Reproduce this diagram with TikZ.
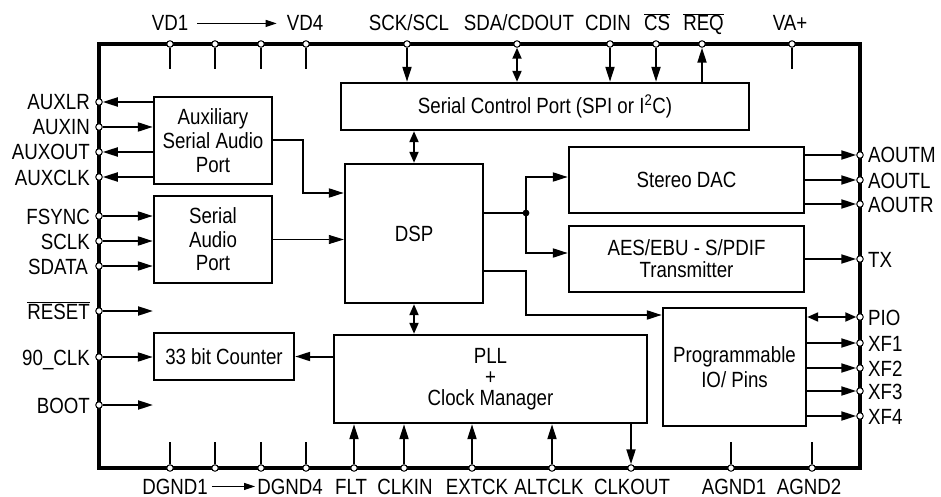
\documentclass[tikz,border=0pt]{standalone}
\usepackage{fontspec}
\setmainfont{Liberation Sans}[FakeStretch=0.85]
\usepackage{tikz}
\usetikzlibrary{arrows.meta}

\begin{document}
\begin{tikzpicture}[x=1pt, y=-1pt,
  every node/.style={font=\fontsize{22}{24}\selectfont},
  blk/.style={draw, line width=2.4pt, align=center, inner sep=0pt},
  iopad/.style={circle, draw, fill=white, line width=1pt, minimum size=6.5pt, inner sep=0pt},
  lbl/.style={inner sep=0pt},
  conn/.style={line width=2pt, -{Triangle[length=15pt,width=9pt]}},
  biconn/.style={line width=2pt, {Triangle[length=11pt,width=9pt]}-{Triangle[length=11pt,width=9pt]}},
  stub/.style={line width=2pt},
  spanarrow/.style={line width=1.1pt, -{Triangle[length=11pt,width=7pt]}}]
  \useasboundingbox (0,0) rectangle (941,497);

  % chip outline
  \draw[line width=3.6pt] (99,44) rectangle (860,468);

  % pads, left side
  \node[iopad] (pAUXLR) at (99,102) {};
  \node[iopad] (pAUXIN) at (99,127) {};
  \node[iopad] (pAUXOUT) at (99,152) {};
  \node[iopad] (pAUXCLK) at (99,177) {};
  \node[iopad] (pFSYNC) at (99,216) {};
  \node[iopad] (pSCLK) at (99,241) {};
  \node[iopad] (pSDATA) at (99,266) {};
  \node[iopad] (pRESET) at (99,311) {};
  \node[iopad] (pNINETY) at (99,357) {};
  \node[iopad] (pBOOT) at (99,405) {};
  % pads, top side
  \node[iopad] (pVDa) at (170,44) {};
  \node[iopad] (pVDb) at (215,44) {};
  \node[iopad] (pVDc) at (261,44) {};
  \node[iopad] (pVDd) at (306,44) {};
  \node[iopad] (pSCK) at (407,44) {};
  \node[iopad] (pSDA) at (517,44) {};
  \node[iopad] (pCDIN) at (610,44) {};
  \node[iopad] (pCS) at (656,44) {};
  \node[iopad] (pREQ) at (702,44) {};
  \node[iopad] (pVA) at (792,44) {};
  % pads, right side
  \node[iopad] (pAOUTM) at (860,155) {};
  \node[iopad] (pAOUTL) at (860,180) {};
  \node[iopad] (pAOUTR) at (860,204) {};
  \node[iopad] (pTX) at (860,259) {};
  \node[iopad] (pPIO) at (860,317) {};
  \node[iopad] (pXFa) at (860,343) {};
  \node[iopad] (pXFb) at (860,368) {};
  \node[iopad] (pXFc) at (860,391) {};
  \node[iopad] (pXFd) at (860,416) {};
  % pads, bottom side
  \node[iopad] (pDGa) at (170,468) {};
  \node[iopad] (pDGb) at (215,468) {};
  \node[iopad] (pDGc) at (261,468) {};
  \node[iopad] (pDGd) at (306,468) {};
  \node[iopad] (pFLT) at (354,468) {};
  \node[iopad] (pCLKIN) at (404,468) {};
  \node[iopad] (pEXTCK) at (472,468) {};
  \node[iopad] (pALTCLK) at (552,468) {};
  \node[iopad] (pCLKOUT) at (631,468) {};
  \node[iopad] (pAGa) at (731,468) {};
  \node[iopad] (pAGb) at (812,468) {};

  % blocks
  \node[blk, minimum width=118pt, minimum height=87pt] (aux) at (213,140.5) {Auxiliary\\Serial Audio\\Port};
  \node[blk, minimum width=118pt, minimum height=87pt, font=\fontsize{22}{23.5}\selectfont] (sap) at (213,239.5) {Serial\\Audio\\Port};
  \node[blk, minimum width=140pt, minimum height=47pt] (cnt) at (224,356.5) {33 bit Counter};
  \node[blk, minimum width=408pt, minimum height=47pt] (scp) at (545,106.5) {Serial Control Port (SPI or I\textsuperscript{2}C)};
  \node[blk, minimum width=138pt, minimum height=139pt] (dsp) at (414,233.5) {DSP};
  \node[blk, minimum width=313pt, minimum height=88pt, font=\fontsize{22}{21}\selectfont] (pll) at (490.5,379) {PLL\\+\\Clock Manager};
  \node[blk, minimum width=235pt, minimum height=66pt] (dac) at (686.5,180) {Stereo DAC};
  \node[blk, minimum width=235pt, minimum height=66pt, font=\fontsize{22}{22}\selectfont] (aes) at (686.5,259) {AES/EBU - S/PDIF\\Transmitter};
  \node[blk, minimum width=143pt, minimum height=118pt, font=\fontsize{22}{25}\selectfont] (pio) at (734.5,367) {Programmable\\IO/ Pins};

  % left connectors
  \draw[conn] (aux.west |- pAUXLR) -- (pAUXLR);
  \draw[conn] (pAUXIN) -- (aux.west |- pAUXIN);
  \draw[conn] (aux.west |- pAUXOUT) -- (pAUXOUT);
  \draw[conn] (aux.west |- pAUXCLK) -- (pAUXCLK);
  \draw[conn] (pFSYNC) -- (sap.west |- pFSYNC);
  \draw[conn] (pSCLK) -- (sap.west |- pSCLK);
  \draw[conn] (pSDATA) -- (sap.west |- pSDATA);
  \coordinate (eRESET) at (153,311);
  \coordinate (eBOOT) at (153,405);
  \draw[conn] (pRESET) -- (eRESET);
  \draw[conn] (pNINETY) -- (cnt.west |- pNINETY);
  \draw[conn] (pBOOT) -- (eBOOT);

  % top connectors
  \draw[stub] (pVDa) -- (pVDa |- 0,69);
  \draw[stub] (pVDb) -- (pVDb |- 0,69);
  \draw[stub] (pVDc) -- (pVDc |- 0,69);
  \draw[stub] (pVDd) -- (pVDd |- 0,69);
  \draw[stub] (pVA) -- (pVA |- 0,69);
  \draw[conn] (pSCK) -- (scp.north -| pSCK);
  \draw[biconn] (pSDA) -- (scp.north -| pSDA);
  \draw[conn] (pCDIN) -- (scp.north -| pCDIN);
  \draw[conn] (pCS) -- (scp.north -| pCS);
  \draw[conn] (scp.north -| pREQ) -- (pREQ);

  % inner connectors
  \draw[conn] (aux.east) -- (303,140.5) |- (dsp.west |- 0,193);
  \draw[conn, line width=0.9pt] (sap.east) -- (dsp.west |- sap.east);
  \draw[biconn] (scp.south -| dsp.north) -- (dsp.north);
  \draw[biconn] (dsp.south) -- (pll.north -| dsp.south);
  \draw[conn] (pll.west |- cnt.east) -- (cnt.east);
  \coordinate (jct) at (526,213);
  \draw[stub] (dsp.east |- jct) -- (jct);
  \fill (jct) circle (3.4pt);
  \draw[conn] (jct) |- (dac.west |- 0,177);
  \draw[conn] (jct) |- (aes.west |- 0,253);
  \draw[conn] (dsp.east |- 0,271) -| (526,315) -- (pio.west |- 0,315);

  % right connectors
  \draw[conn] (dac.east |- pAOUTM) -- (pAOUTM);
  \draw[conn] (dac.east |- pAOUTL) -- (pAOUTL);
  \draw[conn] (dac.east |- pAOUTR) -- (pAOUTR);
  \draw[conn] (aes.east |- pTX) -- (pTX);
  \draw[biconn] (pio.east |- pPIO) -- (pPIO);
  \draw[conn] (pio.east |- pXFa) -- (pXFa);
  \draw[conn] (pio.east |- pXFb) -- (pXFb);
  \draw[conn] (pio.east |- pXFc) -- (pXFc);
  \draw[conn] (pio.east |- pXFd) -- (pXFd);

  % bottom connectors
  \draw[stub] (pDGa) -- (pDGa |- 0,442);
  \draw[stub] (pDGb) -- (pDGb |- 0,442);
  \draw[stub] (pDGc) -- (pDGc |- 0,442);
  \draw[stub] (pDGd) -- (pDGd |- 0,442);
  \draw[stub] (pAGa) -- (pAGa |- 0,442);
  \draw[stub] (pAGb) -- (pAGb |- 0,442);
  \draw[conn] (pFLT) -- (pll.south -| pFLT);
  \draw[conn] (pCLKIN) -- (pll.south -| pCLKIN);
  \draw[conn] (pEXTCK) -- (pll.south -| pEXTCK);
  \draw[conn] (pALTCLK) -- (pll.south -| pALTCLK);
  \draw[conn] (pll.south -| pCLKOUT) -- (pCLKOUT);

  % pin names
  \node[lbl, anchor=base east] (lAUXLR) at (90,110) {AUXLR};
  \node[lbl, anchor=base east] (lAUXIN) at (90,135) {AUXIN};
  \node[lbl, anchor=base east] (lAUXOUT) at (90,160) {AUXOUT};
  \node[lbl, anchor=base east] (lAUXCLK) at (90,185) {AUXCLK};
  \node[lbl, anchor=base east] (lFSYNC) at (90,224) {FSYNC};
  \node[lbl, anchor=base east] (lSCLK) at (90,249) {SCLK};
  \node[lbl, anchor=base east] (lSDATA) at (88,274) {SDATA};
  \node[lbl, anchor=base east] (lRESET) at (90,319) {$\overline{\mbox{RESET}}$};
  \node[lbl, anchor=base east] (lNINETY) at (90,365) {90\_CLK};
  \node[lbl, anchor=base east] (lBOOT) at (90,413) {BOOT};

  \node[lbl, anchor=base] (lVDa) at (170,31) {VD1};
  \node[lbl, anchor=base] (lVDd) at (305,31) {VD4};
  \draw[spanarrow] ([xshift=9pt]lVDa.east) -- ([xshift=-10pt]lVDd.west);
  \node[lbl, anchor=base] (lSCK) at (409,31) {SCK/SCL};
  \node[lbl, anchor=base] (lSDA) at (519,31) {SDA/CDOUT};
  \node[lbl, anchor=base] (lCDIN) at (608,31) {CDIN};
  \node[lbl, anchor=base] (lCS) at (657,31) {$\overline{\mbox{CS}}$};
  \node[lbl, anchor=base] (lREQ) at (703.5,31) {$\overline{\mbox{REQ}}$};
  \node[lbl, anchor=base] (lVA) at (790,31) {VA+};

  \node[lbl, anchor=base west] (lAOUTM) at (868,163) {AOUTM};
  \node[lbl, anchor=base west] (lAOUTL) at (868,188) {AOUTL};
  \node[lbl, anchor=base west] (lAOUTR) at (868,212) {AOUTR};
  \node[lbl, anchor=base west] (lTX) at (868,267) {TX};
  \node[lbl, anchor=base west] (lPIO) at (868,325) {PIO};
  \node[lbl, anchor=base west] (lXFa) at (868,351) {XF1};
  \node[lbl, anchor=base west] (lXFb) at (868,376) {XF2};
  \node[lbl, anchor=base west] (lXFc) at (868,399) {XF3};
  \node[lbl, anchor=base west] (lXFd) at (868,424) {XF4};

  \node[lbl, anchor=base] (lDGa) at (175,494) {DGND1};
  \node[lbl, anchor=base] (lDGd) at (290,494) {DGND4};
  \draw[spanarrow] ([xshift=4pt]lDGa.east) -- ([xshift=-2pt]lDGd.west);
  \node[lbl, anchor=base] (lFLT) at (351,494) {FLT};
  \node[lbl, anchor=base] (lCLKIN) at (405,494) {CLKIN};
  \node[lbl, anchor=base] (lEXTCK) at (477,494) {EXTCK};
  \node[lbl, anchor=base] (lALTCLK) at (549,494) {ALTCLK};
  \node[lbl, anchor=base] (lCLKOUT) at (632,494) {CLKOUT};
  \node[lbl, anchor=base] (lAGa) at (734,494) {AGND1};
  \node[lbl, anchor=base] (lAGb) at (809,494) {AGND2};
\end{tikzpicture}
\end{document}
